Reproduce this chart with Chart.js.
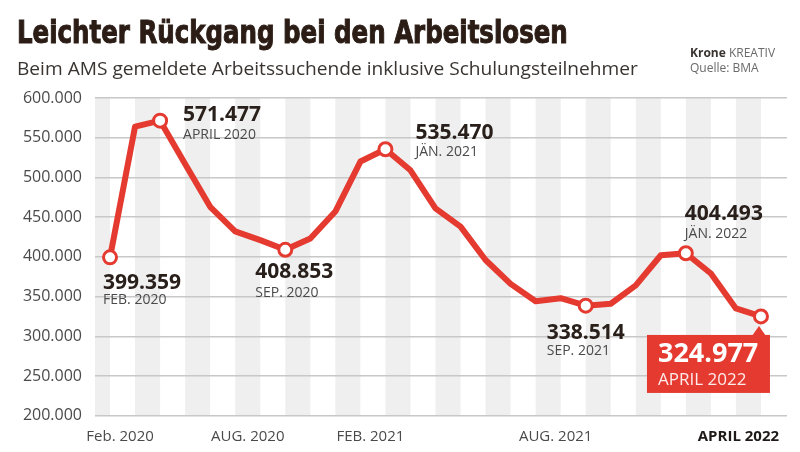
<!DOCTYPE html>
<html>
<head>
<meta charset="utf-8">
<script src="https://cdn.jsdelivr.net/npm/chart.js@4/dist/chart.umd.min.js"></script>
<style>
  body { margin: 0; background: #fff; width: 800px; height: 452px; overflow: hidden; position: relative; }
  #chart { position: absolute; left: 0; top: 0; }
  .fit { position: absolute; white-space: nowrap; transform-origin: 0 0; }
  #title { left: 17px; top: 16px; font: bold 32px/32px "Liberation Sans Narrow", "DejaVu Sans Condensed", sans-serif; color: #2b1d16; -webkit-text-stroke: 1px #2b1d16; }
  #sub { left: 17px; top: 59px; font: 18px/18px "Open Sans", sans-serif; color: #3a3431; }
  #src { position: absolute; left: 690px; top: 45px; font: 12px/15px "Open Sans", sans-serif; color: #6a6a6a; }
  #src b { color: #3a3431; }
</style>
</head>
<body>
<canvas id="chart" width="800" height="452"></canvas>
<div id="title" class="fit" data-w="551">Leichter Rückgang bei den Arbeitslosen</div>
<div id="sub" class="fit" data-w="621">Beim AMS gemeldete Arbeitssuchende inklusive Schulungsteilnehmer</div>
<div id="src"><b>Krone</b> KREATIV<br>Quelle: BMA</div>
<script>
// Feb. 2020 bis April 2022, monatlich
const months = ['FEB. 2020','MÄRZ 2020','APRIL 2020','MAI 2020','JUNI 2020','JULI 2020','AUG. 2020','SEP. 2020','OKT. 2020','NOV. 2020','DEZ. 2020',
  'JÄN. 2021','FEB. 2021','MÄRZ 2021','APRIL 2021','MAI 2021','JUNI 2021','JULI 2021','AUG. 2021','SEP. 2021','OKT. 2021','NOV. 2021','DEZ. 2021',
  'JÄN. 2022','FEB. 2022','MÄRZ 2022','APRIL 2022'];
const jobseekers = [399359, 564000, 571477, 517000, 463000, 432000, 421000, 408853, 423000, 457000, 520000,
  535470, 509000, 461000, 438000, 396000, 366000, 344000, 348000, 338514, 341000, 364000, 402000,
  404493, 379000, 335000, 324977];
const marked = [0, 2, 7, 11, 19, 23, 26];
const xTickIdx = [0, 6, 12, 18, 26];
const xTickLabels = ['Feb. 2020', 'AUG. 2020', 'FEB. 2021', 'AUG. 2021', 'APRIL 2022'];
const yTicks = [200000, 250000, 300000, 350000, 400000, 450000, 500000, 550000, 600000];

// layout tweaks (not data)
const tickNudge = [0.4, -0.5, -1.6, -0.2, -0.9];
const callouts = { 0: [-7, 26, 43], 2: [23, -6, 14], 7: [-30, 22, 43], 11: [30, -16, 3], 19: [-39, 27, 45], 23: [-1, -39, -19] };

const RED = '#e53a30';
const fmt = v => String(Math.round(v)).replace(/\B(?=(\d{3})+(?!\d))/g, '.');

document.querySelectorAll('.fit').forEach(el => {
  el.style.transform = 'scaleX(' + (el.dataset.w / el.offsetWidth) + ')';
});

const bands = {
  id: 'bands',
  beforeDraw(chart) {
    const { ctx, chartArea: ca, scales: { x } } = chart;
    ctx.save();
    ctx.fillStyle = '#efefef';
    for (let i = 0; i < jobseekers.length; i += 2) {
      const x0 = Math.max(x.getPixelForValue(i - 1), ca.left);
      const x1 = x.getPixelForValue(i);
      ctx.fillRect(x0, ca.top, x1 - x0, ca.bottom - ca.top);
    }
    ctx.restore();
  }
};

const labels = {
  id: 'labels',
  afterDatasetsDraw(chart) {
    const ctx = chart.ctx;
    const pts = chart.getDatasetMeta(0).data;
    ctx.save();
    ctx.textAlign = 'left';
    ctx.textBaseline = 'middle';
    marked.forEach(i => {
      const p = pts[i];
      const c = callouts[i];
      if (c) {
        ctx.font = 'bold 21px "Open Sans"';
        ctx.fillStyle = '#2a201b';
        ctx.fillText(fmt(jobseekers[i]), p.x + c[0], p.y + c[1]);
        ctx.font = '14px "Open Sans"';
        ctx.fillStyle = '#4a4a4a';
        ctx.fillText(months[i], p.x + c[0], p.y + c[2]);
      } else {
        const top = p.y + 18.5;
        ctx.fillStyle = RED;
        ctx.fillRect(p.x - 114, top, 123, 58);
        ctx.beginPath();
        ctx.moveTo(p.x - 9, top + 1);
        ctx.lineTo(p.x + 5, top + 1);
        ctx.lineTo(p.x - 2, p.y + 9.5);
        ctx.closePath();
        ctx.fill();
        ctx.fillStyle = '#fff';
        ctx.font = 'bold 27px "Open Sans"';
        ctx.fillText(fmt(jobseekers[i]), p.x - 103, top + 19);
        ctx.fillStyle = 'rgba(255,255,255,0.9)';
        ctx.font = '17px "Open Sans"';
        ctx.fillText(months[i], p.x - 103, top + 45);
      }
    });
    ctx.restore();
  }
};

new Chart(document.getElementById('chart'), {
  type: 'line',
  data: {
    datasets: [{
      data: jobseekers.map((v, i) => ({ x: i, y: v })),
      borderColor: RED,
      borderWidth: 6,
      borderJoinStyle: 'round',
      borderCapStyle: 'round',
      tension: 0,
      fill: false,
      clip: false,
      pointRadius: ctx => marked.includes(ctx.dataIndex) ? 6.5 : 0,
      pointBackgroundColor: '#fff',
      pointBorderColor: RED,
      pointBorderWidth: 3
    }]
  },
  options: {
    responsive: false,
    animation: false,
    layout: { padding: { top: 98, right: 13, left: 0, bottom: 0 } },
    plugins: { legend: { display: false }, tooltip: { enabled: false } },
    scales: {
      x: {
        type: 'linear',
        min: -0.6,
        max: 27.04,
        grid: { display: false },
        border: { display: false },
        afterBuildTicks: s => { s.ticks = xTickIdx.map((v, k) => ({ value: v + tickNudge[k] })); },
        afterFit: s => { s.height = 36.3; },
        ticks: {
          autoSkip: false,
          maxRotation: 0,
          padding: 4,
          callback: (v, k) => xTickLabels[k],
          color: ctx => ctx.index === xTickLabels.length - 1 ? '#1f1a17' : '#4a4a4a',
          font: ctx => ({ family: 'Open Sans', size: 15, weight: ctx.index === xTickLabels.length - 1 ? 'bold' : 'normal' })
        }
      },
      y: {
        min: 200000,
        max: 600000,
        afterBuildTicks: s => { s.ticks = yTicks.map(v => ({ value: v })); },
        afterFit: s => { s.width = 95; },
        grid: { color: '#c8c8c8', lineWidth: 1.5, drawTicks: false },
        border: { display: false },
        ticks: {
          padding: 13,
          color: '#4a4a4a',
          font: { family: 'Open Sans', size: 16 },
          callback: v => fmt(v)
        }
      }
    }
  },
  plugins: [bands, labels]
});
</script>
</body>
</html>
